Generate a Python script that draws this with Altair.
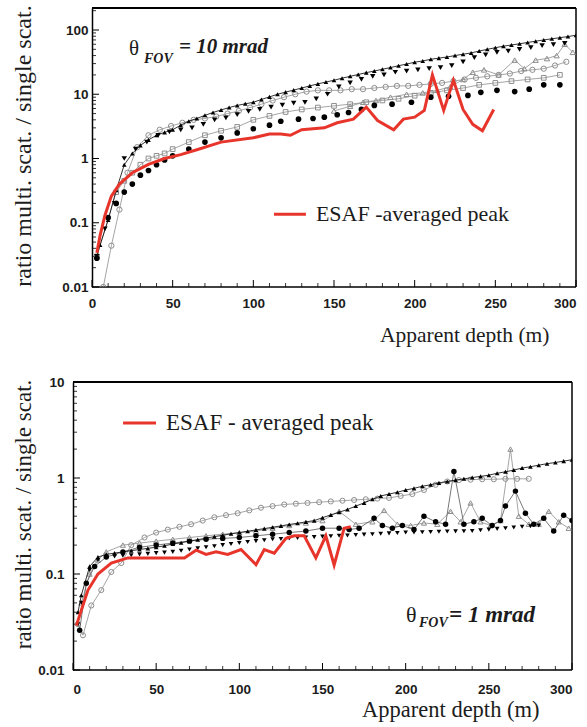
import altair as alt
import pandas as pd

# ---------------- data: top panel (theta_FOV = 10 mrad) ----------------
top_up_x = [3] + list(range(5, 301, 5))
top_up_y = [0.03, 0.045, 0.11, 0.32, 0.8, 1.2, 1.6, 1.95, 2.3, 2.55, 2.8, 3.3, 3.8, 4.2, 4.7, 5.2,
            5.7, 6.2, 6.7, 7.1, 7.5, 8.3, 9.1, 10, 10.8, 11.6, 12.5, 13.5, 14.5, 15.5, 16.5, 17.8,
            19, 20.3, 21.7, 23, 24.5, 26, 27.8, 29.5, 31.5, 33, 35, 36.5, 38, 40, 42, 44, 47, 50,
            53, 56, 58.5, 61, 64, 67, 70, 73, 76, 79, 83]

top_down_x = [3, 8, 14, 20, 27, 34, 41, 48, 55, 62, 69, 76, 83, 90, 97, 104, 111, 118, 125, 132,
              139, 146, 153, 160, 167, 174, 181, 188, 195, 202, 209, 216, 223, 230, 237, 244, 251,
              258, 265, 272, 279, 286, 293]
top_down_y = [0.03, 0.08, 0.2, 1.0, 1.4, 1.8, 2.3, 2.6, 2.8, 3.0, 3.4, 4.0, 4.3, 4.8, 5.4, 5.8, 6.3,
              6.8, 7.3, 7.5, 8.5, 10, 13, 15, 17, 19, 20, 22, 23, 24, 25, 26, 28, 32, 37, 41, 45,
              47, 50, 53, 57, 59, 62]

top_co_x = [7, 12, 17, 22, 28, 35, 42, 49, 56, 63, 70, 77, 84, 91, 98, 105, 112, 119, 126, 133,
            140, 147, 154, 161, 168, 175, 182, 189, 196, 203, 210, 217, 224, 231, 238, 245, 252,
            259, 266, 273, 280, 287, 294]
top_co_y = [0.01, 0.044, 0.16, 0.6, 1.5, 2.3, 2.8, 3.2, 3.6, 4.0, 4.2, 4.5, 5.0, 5.5, 6.2, 7.0, 8.0,
            9.0, 10, 11, 11.5, 11.5, 11.5, 12, 12, 12.5, 13, 13.5, 13.5, 14, 14.5, 15, 16, 17, 18,
            19, 20, 21, 23, 24, 25, 28, 32]

top_sq_x = [3, 15, 20, 25, 30, 35, 40, 45, 50, 60, 70, 80, 90, 100, 110, 120, 130, 140, 150, 160,
            170, 180, 190, 200, 210, 220, 230, 240, 250, 260, 270, 280, 290]
top_sq_y = [0.03, 0.3, 0.45, 0.6, 0.8, 1.0, 1.1, 1.2, 1.4, 1.8, 2.3, 2.7, 3.1, 4.0, 4.6, 5.3, 5.8,
            6.2, 6.6, 7.0, 7.5, 8, 8.5, 9.5, 10.5, 11.5, 12.5, 14, 15, 16, 17, 18, 20]

top_cf_x = [3, 10, 15, 20, 25, 30, 35, 40, 45, 50, 60, 70, 80, 90, 100, 110, 117, 128, 137, 144,
            152, 159, 167, 175, 186, 198, 210, 221, 233, 241, 251, 262, 271, 280, 290]
top_cf_y = [0.028, 0.12, 0.2, 0.3, 0.4, 0.55, 0.65, 0.8, 0.95, 1.1, 1.4, 1.8, 2.1, 2.5, 2.9, 3.3,
            3.8, 4.1, 4.2, 4.4, 4.8, 5.2, 5.8, 6.7, 7.0, 7.5, 9, 9.3, 9.6, 10.7, 11.5, 11, 12, 14, 14]

top_to_x = [150, 160, 168, 176, 185, 195, 205, 214, 222, 230, 236, 243, 252, 262, 268, 275, 282,
            288, 293, 298]
top_to_y = [5.5, 6.5, 7.5, 8, 9, 10, 10.5, 11.5, 13, 17, 22, 24, 20, 34, 25, 34, 36, 40, 60, 45]

top_red_x = [3, 5, 8, 12, 17, 25, 35, 45, 55, 65, 80, 100, 110, 117, 123, 130, 144, 152, 162, 170,
             177, 187, 193, 200, 206, 211, 218, 224, 230, 236, 242, 249]
top_red_y = [0.034, 0.063, 0.13, 0.26, 0.4, 0.6, 0.81, 1.0, 1.15, 1.37, 1.8, 2.1, 2.4, 2.4, 2.3,
             2.8, 3.0, 3.6, 4.1, 6.3, 3.9, 2.8, 4.1, 4.4, 5.6, 20, 5.6, 16.5, 5.8, 3.4, 2.7, 5.8]

# ---------------- data: bottom panel (theta_FOV = 1 mrad) ----------------
bot_up_x = [3] + list(range(5, 301, 5))
bot_up_y = [0.04, 0.06, 0.12, 0.15, 0.16, 0.165, 0.17, 0.175, 0.18, 0.185, 0.19, 0.197, 0.205,
            0.212, 0.22, 0.228, 0.236, 0.245, 0.253, 0.262, 0.27, 0.279, 0.288, 0.297, 0.307,
            0.317, 0.328, 0.338, 0.349, 0.36, 0.386, 0.413, 0.44, 0.47, 0.51, 0.55, 0.60, 0.65,
            0.68, 0.71, 0.75, 0.78, 0.82, 0.85, 0.89, 0.92, 0.95, 0.98, 1.01, 1.04, 1.07, 1.12,
            1.16, 1.21, 1.27, 1.31, 1.36, 1.41, 1.45, 1.5, 1.55]

bot_down_x = [3] + list(range(5, 281, 5))
bot_down_y = [0.03, 0.05, 0.11, 0.14, 0.15, 0.152, 0.155, 0.157, 0.16, 0.162, 0.165, 0.167, 0.17,
              0.175, 0.18, 0.185, 0.19, 0.195, 0.2, 0.205, 0.21, 0.215, 0.22, 0.225, 0.23, 0.232,
              0.235, 0.237, 0.24, 0.242, 0.245, 0.247, 0.25, 0.252, 0.255, 0.257, 0.26, 0.262,
              0.265, 0.267, 0.27, 0.271, 0.272, 0.274, 0.275, 0.277, 0.278, 0.279, 0.28, 0.285,
              0.29, 0.295, 0.3, 0.305, 0.31, 0.315, 0.32]

bot_co_x = [3, 6, 11, 17, 23, 29, 35, 43, 50, 57, 64, 71, 78, 85, 92, 99, 106, 113, 120, 127, 134,
            141, 148, 155, 162, 169, 176, 183, 190, 197, 204, 211, 218, 225, 232, 239, 246, 253,
            260, 267, 274]
bot_co_y = [0.03, 0.023, 0.047, 0.068, 0.105, 0.13, 0.2, 0.24, 0.27, 0.29, 0.31, 0.33, 0.36, 0.39,
            0.41, 0.43, 0.46, 0.49, 0.51, 0.53, 0.54, 0.55, 0.56, 0.57, 0.58, 0.59, 0.6, 0.61, 0.62,
            0.65, 0.68, 0.75, 0.85, 0.92, 0.95, 0.96, 0.97, 0.97, 0.98, 0.98, 0.98]

bot_cf_x = [4, 8, 13, 20, 30, 40, 50, 60, 70, 80, 90, 100, 110, 120, 130, 140, 150, 160, 166, 172,
            181, 186, 192, 198, 205, 211, 218, 224, 229, 235, 241, 246, 252, 257, 260, 266, 272,
            277, 283, 289, 295, 300]
bot_cf_y = [0.026, 0.08, 0.12, 0.15, 0.17, 0.19, 0.2, 0.21, 0.22, 0.23, 0.235, 0.24, 0.25, 0.26,
            0.27, 0.28, 0.3, 0.3, 0.29, 0.3, 0.38, 0.32, 0.3, 0.32, 0.29, 0.4, 0.35, 0.33, 1.17,
            0.33, 0.35, 0.38, 0.32, 0.36, 0.51, 0.73, 0.43, 0.33, 0.38, 0.28, 0.41, 0.36]

bot_to_x = [5, 10, 15, 20, 30, 40, 50, 60, 70, 80, 90, 100, 110, 120, 130, 140, 150, 160, 170, 180,
            187, 195, 203, 211, 219, 227, 233, 239, 245, 251, 257, 263, 268, 274, 280, 286, 292, 298]
bot_to_y = [0.05, 0.1, 0.14, 0.17, 0.2, 0.21, 0.22, 0.23, 0.24, 0.25, 0.26, 0.27, 0.28, 0.3, 0.32,
            0.34, 0.36, 0.45, 0.33, 0.35, 0.46, 0.33, 0.32, 0.34, 0.33, 0.45, 0.35, 0.55, 0.35,
            0.32, 0.36, 2.0, 0.4, 0.33, 0.33, 0.45, 0.35, 0.3]

bot_red_x = [2, 5, 9, 15, 23, 33, 47, 67, 74, 80, 86, 93, 101, 110, 115, 121, 128, 133, 139, 146,
             152, 157, 163, 167]
bot_red_y = [0.029, 0.042, 0.068, 0.10, 0.13, 0.147, 0.147, 0.147, 0.177, 0.16, 0.17, 0.16, 0.18,
             0.125, 0.18, 0.165, 0.235, 0.25, 0.25, 0.147, 0.25, 0.124, 0.30, 0.31]

# ---------------- ticks and text ----------------
x_tick_labels = [0, 50, 100, 150, 200, 250, 300]
x_minor_ticks = [10, 20, 30, 40, 60, 70, 80, 90, 110, 120, 130, 140, 160, 170, 180, 190,
                 210, 220, 230, 240, 260, 270, 280, 290]
top_y_labels = [0.01, 0.1, 1, 10, 100]
bot_y_labels = [0.01, 0.1, 1, 10]
y_minor_ticks = [0.02, 0.03, 0.04, 0.05, 0.06, 0.07, 0.08, 0.09,
                 0.2, 0.3, 0.4, 0.5, 0.6, 0.7, 0.8, 0.9,
                 2, 3, 4, 5, 6, 7, 8, 9,
                 20, 30, 40, 50, 60, 70, 80, 90, 200]

y_title = "ratio  multi. scat. / single scat."
x_title = "Apparent depth  (m)"
top_legend_text = "ESAF -averaged peak"
bot_legend_text = "ESAF - averaged peak"

SERIF = "Liberation Serif"
SANS = "Liberation Sans"
RED = "#e8352b"
GRAY = "#8e8e8e"
INK = "#1c1c1c"


def build_panel(plot_w, height, shift, ydom, ylabels, xlabel_pad, ylabel_pad, ytitle_pad,
                ytitle_shift, xtitle_x, xtitle_y, xtitle_size, ytitle_size, series, red,
                legend, theta):
    # the plot area starts `shift` px left of depth 0 (so the two panels can sit offset)
    width = plot_w + shift
    xmin = -shift * 300.0 / plot_w
    xs = alt.Scale(domain=[xmin, 300], nice=False, zero=False)
    ys = alt.Scale(type="log", domain=ydom, nice=False)
    xa = alt.Axis(values=x_tick_labels, format="d", tickSize=0, labelPadding=xlabel_pad,
                  labelFont=SANS, labelFontSize=13.5, labelFontWeight="bold", labelColor=INK,
                  domain=False, grid=False, title=x_title,
                  titleFont=SERIF, titleFontSize=xtitle_size, titleFontWeight="normal",
                  titleColor=INK, titleX=xtitle_x + shift, titleY=xtitle_y, titleAlign="right",
                  titleBaseline="top")
    ya = alt.Axis(values=ylabels, format="~g", tickSize=0, labelPadding=ylabel_pad,
                  labelFont=SANS, labelFontSize=13.5, labelFontWeight="bold", labelColor=INK,
                  domainColor="black", domainWidth=1.5, grid=False, title=y_title,
                  titleFont=SERIF, titleFontSize=ytitle_size, titleFontWeight="normal",
                  titleColor=INK, titlePadding=ytitle_pad, titleY=height / 2 + ytitle_shift,
                  offset=-shift)

    def X():
        return alt.X("x:Q", scale=xs, axis=xa)

    def Y():
        return alt.Y("y:Q", scale=ys, axis=ya)

    layers = []
    # frame (top, bottom, right edges; the left edge is the y-axis line)
    fh = pd.DataFrame({"x": [0], "x2": [300]})
    layers.append(alt.Chart(fh).mark_rule(color="black", strokeWidth=2)
                  .encode(x=X(), x2="x2:Q", y=alt.value(0)))
    layers.append(alt.Chart(fh).mark_rule(color="black", strokeWidth=1.5)
                  .encode(x=X(), x2="x2:Q", y=alt.value(height)))
    layers.append(alt.Chart(pd.DataFrame({"x": [300]})).mark_rule(color="black", strokeWidth=1.5)
                  .encode(x=X(), y=alt.value(0), y2=alt.value(height)))

    # inner ticks
    ymin = [v for v in y_minor_ticks if ydom[0] < v < ydom[1]]
    layers.append(alt.Chart(pd.DataFrame({"y": ylabels})).mark_rule(color="black", strokeWidth=1)
                  .encode(y=Y(), x=alt.value(shift), x2=alt.value(shift + 7)))
    layers.append(alt.Chart(pd.DataFrame({"y": ymin})).mark_rule(color="black", strokeWidth=0.8)
                  .encode(y=Y(), x=alt.value(shift), x2=alt.value(shift + 4)))
    layers.append(alt.Chart(pd.DataFrame({"x": x_tick_labels})).mark_rule(color="black", strokeWidth=1)
                  .encode(x=X(), y=alt.value(height), y2=alt.value(height - 7)))
    layers.append(alt.Chart(pd.DataFrame({"x": x_minor_ticks})).mark_rule(color="black", strokeWidth=0.8)
                  .encode(x=X(), y=alt.value(height), y2=alt.value(height - 4)))

    for (sx, sy, shape, filled, color, size, lcol) in series:
        d = pd.DataFrame({"x": sx, "y": sy})
        if lcol:
            layers.append(alt.Chart(d).mark_line(color=lcol, strokeWidth=0.8, clip=True)
                          .encode(x=X(), y=Y()))
        layers.append(alt.Chart(d).mark_point(shape=shape, filled=filled, color=color, size=size,
                                              strokeWidth=1, opacity=1, clip=True)
                      .encode(x=X(), y=Y()))

    rx, ry = red
    layers.append(alt.Chart(pd.DataFrame({"x": rx, "y": ry}))
                  .mark_line(color=RED, strokeWidth=3, clip=True).encode(x=X(), y=Y()))

    # legend line + text
    (lx1, lx2, ltx, ly, ltext, lsize) = legend
    layers.append(alt.Chart(pd.DataFrame({"x": [lx1, lx2], "y": [ly, ly]}))
                  .mark_line(color=RED, strokeWidth=3).encode(x=X(), y=Y()))
    layers.append(alt.Chart(pd.DataFrame({"x": [ltx], "y": [ly], "t": [ltext]}))
                  .mark_text(align="left", baseline="middle", font=SERIF, fontSize=lsize, color=INK)
                  .encode(x=X(), y=Y(), text="t:N"))

    # theta_FOV annotation
    (tx, ty, fx, fy, ex, ey, eqtext, tsize, fsize, esize) = theta
    layers.append(alt.Chart(pd.DataFrame({"x": [tx], "y": [ty], "t": ["\u03b8"]}))
                  .mark_text(align="left", baseline="middle", font=SERIF, fontSize=tsize, color=INK)
                  .encode(x=X(), y=Y(), text="t:N"))
    layers.append(alt.Chart(pd.DataFrame({"x": [fx], "y": [fy], "t": ["FOV"]}))
                  .mark_text(align="left", baseline="middle", font=SERIF, fontSize=fsize,
                             fontStyle="italic", fontWeight="bold", color=INK)
                  .encode(x=X(), y=Y(), text="t:N"))
    layers.append(alt.Chart(pd.DataFrame({"x": [ex], "y": [ey], "t": [eqtext]}))
                  .mark_text(align="left", baseline="middle", font=SERIF, fontSize=esize,
                             fontStyle="italic", fontWeight="bold", color=INK)
                  .encode(x=X(), y=Y(), text="t:N"))

    return alt.layer(*layers).properties(width=width, height=height)


top_series = [
    (top_co_x, top_co_y, "circle", False, GRAY, 28, GRAY),
    (top_sq_x, top_sq_y, "square", False, GRAY, 22, GRAY),
    (top_to_x, top_to_y, "triangle-up", False, GRAY, 28, GRAY),
    (top_cf_x, top_cf_y, "circle", True, "black", 32, None),
    (top_down_x, top_down_y, "triangle-down", True, "black", 30, None),
    (top_up_x, top_up_y, "triangle-up", True, "black", 22, "black"),
]
bot_series = [
    (bot_co_x, bot_co_y, "circle", False, GRAY, 26, GRAY),
    (bot_to_x, bot_to_y, "triangle-up", False, GRAY, 26, GRAY),
    (bot_cf_x, bot_cf_y, "circle", True, "black", 30, "#555555"),
    (bot_down_x, bot_down_y, "triangle-down", True, "black", 22, None),
    (bot_up_x, bot_up_y, "triangle-up", True, "black", 22, "black"),
]

top = build_panel(484, 279, 19, [0.01, 220], top_y_labels, 9, 4, 26, -2, 457, 37, 21.5, 24,
                  top_series, (top_red_x, top_red_y),
                  (112.8, 132.6, 138.8, 0.136, top_legend_text, 22),
                  (22.9, 50.6, 32.2, 36, 53.9, 54, "= 10 mrad", 21, 14, 21))
bottom = build_panel(499, 288, 0, [0.01, 10], bot_y_labels, 12, 9, 2, -12, 466, 28, 22.5, 23,
                     bot_series, (bot_red_x, bot_red_y),
                     (30.1, 49.9, 55.9, 3.74, bot_legend_text, 23),
                     (200.2, 0.0374, 208.0, 0.031, 226.1, 0.0374, "= 1 mrad", 22, 14, 23))

chart = alt.concat(top, bottom, columns=1, spacing=29).properties(
    padding={"left": 11, "top": 1, "right": 6, "bottom": 2}
).configure_view(strokeOpacity=0)

chart.save("out.html", embed_options={"renderer": "svg", "actions": False})
